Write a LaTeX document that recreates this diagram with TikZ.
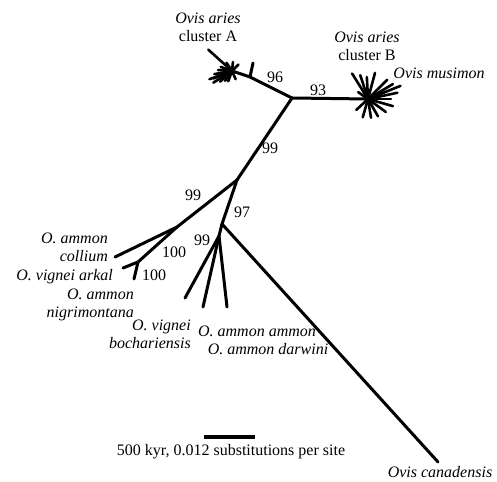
\documentclass[tikz,border=0pt]{standalone}
\usepackage{fontspec}
\setmainfont{Liberation Serif}
\usepackage{tikz}
\usetikzlibrary{positioning, calc}

\begin{document}
\begin{tikzpicture}[
  x=1pt, y=-1pt,
  font=\fontsize{16}{18}\selectfont,
  % Tree branches
  branch/.style={line width=3pt, line cap=round, color=black},
  % Short spikes of the star clusters
  spike/.style={line width=2.6pt, line cap=round, color=black},
  % Taxon names
  taxon/.style={inner sep=0pt, font=\fontsize{16}{18}\selectfont\itshape},
  % Bootstrap values
  boot/.style={inner sep=0pt}
]
\useasboundingbox (0,0) rectangle (497,481);

% === INTERNAL NODES ===
\coordinate (top) at (292,98);
\coordinate (ammon) at (237,180);
\coordinate (arkfork) at (177,227);
\coordinate (arktip) at (138,262);
\coordinate (outg) at (222,224);
\coordinate (subsp) at (219,236);
\coordinate (tick) at (250,77);

% === STAR CLUSTERS ===
\coordinate (clA) at (232,71);
\coordinate (clB) at (368,99);

% === TIPS ===
\coordinate (tickend) at (253,63);
\coordinate (colltip) at (115,257);
\coordinate (arkA) at (123,268);
\coordinate (arkB) at (134,279);
\coordinate (nigtip) at (185,298);
\coordinate (bochtip) at (203,307);
\coordinate (darwtip) at (227,307);
\coordinate (canatip) at (438,462);

% === BRANCHES ===
\draw[branch] (top) -- (tick) -- (clA);
\draw[branch] (tick) -- (tickend);
\draw[branch] (top) -- (clB);
\draw[branch] (top) -- (ammon);
\draw[branch] (ammon) -- (arkfork) -- (colltip);
\draw[branch] (arkfork) -- (arktip) -- (arkA);
\draw[branch] (arktip) -- (arkB);
\draw[branch] (ammon) -- (outg) -- (canatip);
\draw[branch] (outg) -- (subsp) -- (nigtip);
\draw[branch] (subsp) -- (bochtip);
\draw[branch] (subsp) -- (darwtip);

% spikes of cluster A (angles counted upwards, y axis points down)
\foreach \a/\l in {138/32, 202/20, 212/22, 222/16, 250/11, 294/9, 124/10, 84/9, 45/9,
                   176/14, 190/18, 160/12, 235/12, 200/24}
  \draw[spike] (clA) -- ++(-\a:\l);
% spikes of cluster B
\foreach \a/\l in {122/30, 108/25, 93/22, 75/27, 45/27, 31/29, 22/35, 12/30, 0/23,
                   -16/26, -36/22, -60/20, -81/19, -106/19, -137/16, 145/12}
  \draw[spike] (clB) -- ++(-\a:\l);

% === BOOTSTRAP VALUES ===
\node[boot] (b96) at (275,77) {96};
\node[boot] (b93) at (318,90) {93};
\node[boot] (b99a) at (270,148) {99};
\node[boot] (b99b) at (193,195) {99};
\node[boot] (b97) at (242,212) {97};
\node[boot] (b99c) at (202,240) {99};
\node[boot] (b100a) at (174,252) {100};
\node[boot] (b100b) at (154,275) {100};

% === TAXON LABELS ===
\node[align=center, inner sep=0pt] (lblA) at (208,27) {\textit{Ovis aries}\\cluster A};
\node[align=center, inner sep=0pt] (lblB) at (367,46) {\textit{Ovis aries}\\cluster B};
\node[taxon] (lblmus) at (439,73) {Ovis musimon};
\node[taxon, align=right, anchor=east] (lblcoll) at (108,247) {O. ammon\\collium};
\node[taxon, anchor=east] (lblark) at (113,277) {O. vignei arkal};
\node[taxon, align=right, anchor=east] (lblnig) at (134,305) {O. ammon\\nigrimontana};
\node[taxon, align=right, anchor=east] (lblboch) at (191,334) {O. vignei\\bochariensis};
\node[taxon] (lblamm) at (257,331) {O. ammon ammon};
\node[taxon] (lbldarw) at (268,349) {O. ammon darwini};
\node[taxon] (lblcana) at (440,472) {Ovis canadensis};

% === SCALE BAR ===
\coordinate (sbL) at (204,437);
\coordinate (sbR) at (255,437);
\draw[line width=3.5pt] (sbL) -- (sbR);
\node[inner sep=0pt] (sbtext) at (231,452) {500 kyr, 0.012 substitutions per site};

\end{tikzpicture}
\end{document}
